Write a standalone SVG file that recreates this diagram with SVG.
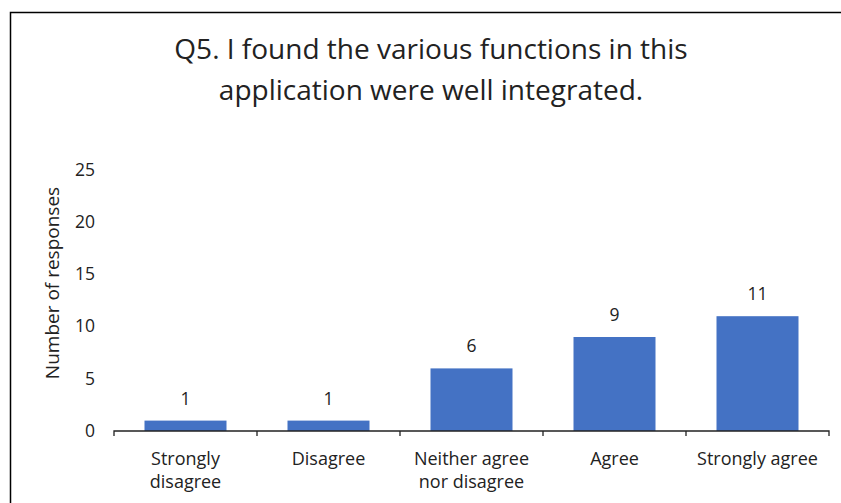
<svg xmlns="http://www.w3.org/2000/svg" width="841" height="503" viewBox="0 0 841 503">
<style>
text{font-family:"Open Sans","Noto Sans","Liberation Sans",sans-serif;fill:#222}
.title{font-size:28px;text-anchor:middle}
.tick{font-size:17.5px;text-anchor:end}
.ytitle{font-size:19px;text-anchor:middle}
.lbl{font-size:17.5px;text-anchor:middle}
.cat{font-size:18px;text-anchor:middle}
.bar{fill:#4472C4}
.axis{stroke:#222;stroke-width:1.3;fill:none}
</style>
<rect x="0" y="0" width="841" height="503" fill="#fff"/>
<rect x="10.5" y="12.5" width="840" height="500" fill="none" stroke="#000" stroke-width="1.5"/>
<g id="title">
<text class="title" x="431" y="59">Q5. I found the various functions in this</text>
<text class="title" x="431" y="100">application were well integrated.</text>
</g>
<g id="yaxis">
<text class="tick" x="95" y="437">0</text>
<text class="tick" x="95" y="385">5</text>
<text class="tick" x="95" y="332">10</text>
<text class="tick" x="95" y="280">15</text>
<text class="tick" x="95" y="228">20</text>
<text class="tick" x="95" y="176">25</text>
<text class="ytitle" transform="translate(59,283) rotate(-90)">Number of responses</text>
</g>
<g id="bars">
<rect class="bar" x="144.5" y="420.6" width="82" height="10.4"/>
<rect class="bar" x="287.5" y="420.6" width="82" height="10.4"/>
<rect class="bar" x="430.5" y="368.4" width="82" height="62.6"/>
<rect class="bar" x="573.5" y="337" width="82" height="94"/>
<rect class="bar" x="716.5" y="316.2" width="82" height="114.8"/>
</g>
<g id="connectors">
<path class="axis" d="M114,436V431H829V436M257,431V436M400,431V436M543,431V436M686,431V436"/>
</g>
<g id="datalabels">
<text class="lbl" x="185.5" y="405">1</text>
<text class="lbl" x="328.5" y="405">1</text>
<text class="lbl" x="471.5" y="352">6</text>
<text class="lbl" x="614.5" y="321">9</text>
<text class="lbl" x="757.5" y="300">11</text>
</g>
<g id="categories">
<text class="cat" x="185.5" y="465">Strongly</text>
<text class="cat" x="185.5" y="488">disagree</text>
<text class="cat" x="328.5" y="465">Disagree</text>
<text class="cat" x="471.5" y="465">Neither agree</text>
<text class="cat" x="471.5" y="488">nor disagree</text>
<text class="cat" x="614.5" y="465">Agree</text>
<text class="cat" x="757.5" y="465">Strongly agree</text>
</g>
</svg>
